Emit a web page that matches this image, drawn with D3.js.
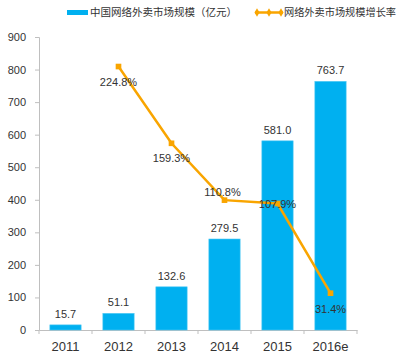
<!DOCTYPE html>
<html>
<head>
<meta charset="utf-8">
<script src="https://cdn.jsdelivr.net/npm/d3@7"></script>
<style>
    body { margin: 0; background: #fff; }
    text { font-family: "Liberation Sans", Arial, "Noto Sans CJK SC", sans-serif; fill: #333; }
    .cjk { font-family: "Noto Sans CJK SC", sans-serif; }
</style>
</head>
<body>
<script>
// chart data
var years = ["2011", "2012", "2013", "2014", "2015", "2016e"];
var marketSize = [15.7, 51.1, 132.6, 279.5, 581.0, 763.7];
var growthYears = ["2012", "2013", "2014", "2015", "2016e"];
var growthRate = [224.8, 159.3, 110.8, 107.9, 31.4];
var sizeTicks = [0, 100, 200, 300, 400, 500, 600, 700, 800, 900];
var legendNames = ["中国网络外卖市场规模（亿元）", "网络外卖市场规模增长率"];

(function() {
    var width = 405,
        height = 362,
        margin = {top: 37, right: 48, bottom: 32, left: 39},
        barColor = "#00b0f0",
        lineColor = "#f9a500";

    var svg = d3.select("body").append("svg")
                .attr("width", width)
                .attr("height", height);

    var x = d3.scaleBand()
              .domain(years)
              .range([margin.left, width - margin.right])
              .paddingInner(0.41)
              .paddingOuter(0.205);

    var y = d3.scaleLinear()
              .domain([0, 900])
              .range([height - margin.bottom, margin.top]);

    // hidden right axis for the growth line
    var y2 = d3.scaleLinear()
               .domain([0, 250])
               .range([height - margin.bottom, margin.top]);

    // y axis
    var yAxis = svg.append("g")
                   .attr("transform", "translate(" + margin.left + ",0)")
                   .call(d3.axisLeft(y).tickValues(sizeTicks).tickSize(4).tickPadding(9));
    yAxis.select(".domain").attr("stroke", "#bfbfbf");
    yAxis.selectAll(".tick line").attr("stroke", "#bfbfbf");
    yAxis.selectAll(".tick text").style("font-size", "11px").attr("fill", "#333");

    // x axis, ticks on category boundaries
    var xAxis = svg.append("g")
                   .attr("transform", "translate(0," + (height - margin.bottom) + ")")
                   .call(d3.axisBottom(x).tickSize(0).tickPadding(12));
    xAxis.select(".domain").attr("stroke", "#bfbfbf");
    xAxis.selectAll(".tick text").style("font-size", "13px").attr("fill", "#333");

    var plotW = width - margin.left - margin.right;
    xAxis.selectAll(".sep")
         .data(d3.range(years.length + 1))
         .enter()
         .append("line")
         .attr("x1", function(i) { return margin.left + i * plotW / years.length; })
         .attr("x2", function(i) { return margin.left + i * plotW / years.length; })
         .attr("y1", 0)
         .attr("y2", 4)
         .attr("stroke", "#bfbfbf");

    // bars
    svg.selectAll(".bar")
       .data(marketSize)
       .enter()
       .append("rect")
       .attr("class", "bar")
       .attr("x", function(d, i) { return x(years[i]); })
       .attr("y", function(d) { return y(d); })
       .attr("width", x.bandwidth())
       .attr("height", function(d) { return y(0) - y(d); })
       .attr("fill", barColor)
       .attr("stroke", "#4fc8f4")
       .attr("stroke-width", 0.6);

    svg.selectAll(".barLabel")
       .data(marketSize)
       .enter()
       .append("text")
       .attr("class", "barLabel")
       .attr("x", function(d, i) { return x(years[i]) + x.bandwidth() / 2; })
       .attr("y", function(d) { return y(d) - 7; })
       .attr("text-anchor", "middle")
       .style("font-size", "11px")
       .text(function(d) { return d.toFixed(1); });

    // growth line
    var cx = function(i) { return x(growthYears[i]) + x.bandwidth() / 2; };
    var line = d3.line()
                 .x(function(d, i) { return cx(i); })
                 .y(function(d) { return y2(d); });

    svg.append("path")
       .datum(growthRate)
       .attr("d", line)
       .attr("fill", "none")
       .attr("stroke", lineColor)
       .attr("stroke-width", 2.5);

    svg.selectAll(".marker")
       .data(growthRate)
       .enter()
       .append("path")
       .attr("class", "marker")
       .attr("d", d3.symbol().type(d3.symbolSquare).size(32))
       .attr("transform", function(d, i) { return "translate(" + cx(i) + "," + y2(d) + ")"; })
       .attr("fill", lineColor);

    // label offsets, as placed in the original
    var labelDy = [19, 19, -4, 4, 20];
    var labelDx = [0, 0, -2, 0, 0];
    svg.selectAll(".lineLabel")
       .data(growthRate)
       .enter()
       .append("text")
       .attr("class", "lineLabel")
       .attr("x", function(d, i) { return cx(i) + labelDx[i]; })
       .attr("y", function(d, i) { return y2(d) + labelDy[i]; })
       .attr("text-anchor", "middle")
       .style("font-size", "11px")
       .text(function(d) { return d.toFixed(1) + "%"; });

    // legend
    var legend = svg.append("g").attr("class", "legend");
    legend.append("rect")
          .attr("x", 67).attr("y", 10)
          .attr("width", 21).attr("height", 5)
          .attr("fill", barColor);
    legend.append("text")
          .attr("class", "cjk")
          .attr("x", 90).attr("y", 16)
          .style("font-size", "10.5px")
          .text(legendNames[0]);

    legend.append("line")
          .attr("x1", 255).attr("x2", 283)
          .attr("y1", 12.5).attr("y2", 12.5)
          .attr("stroke", lineColor)
          .attr("stroke-width", 2.5);
    legend.selectAll(".legMarker")
          .data([257, 269, 281])
          .enter()
          .append("path")
          .attr("d", d3.symbol().type(d3.symbolDiamond).size(22))
          .attr("transform", function(d) { return "translate(" + d + ",12.5)"; })
          .attr("fill", lineColor);
    legend.append("text")
          .attr("class", "cjk")
          .attr("x", 284).attr("y", 16)
          .style("font-size", "10.2px")
          .text(legendNames[1]);
})();
</script>
</body>
</html>
